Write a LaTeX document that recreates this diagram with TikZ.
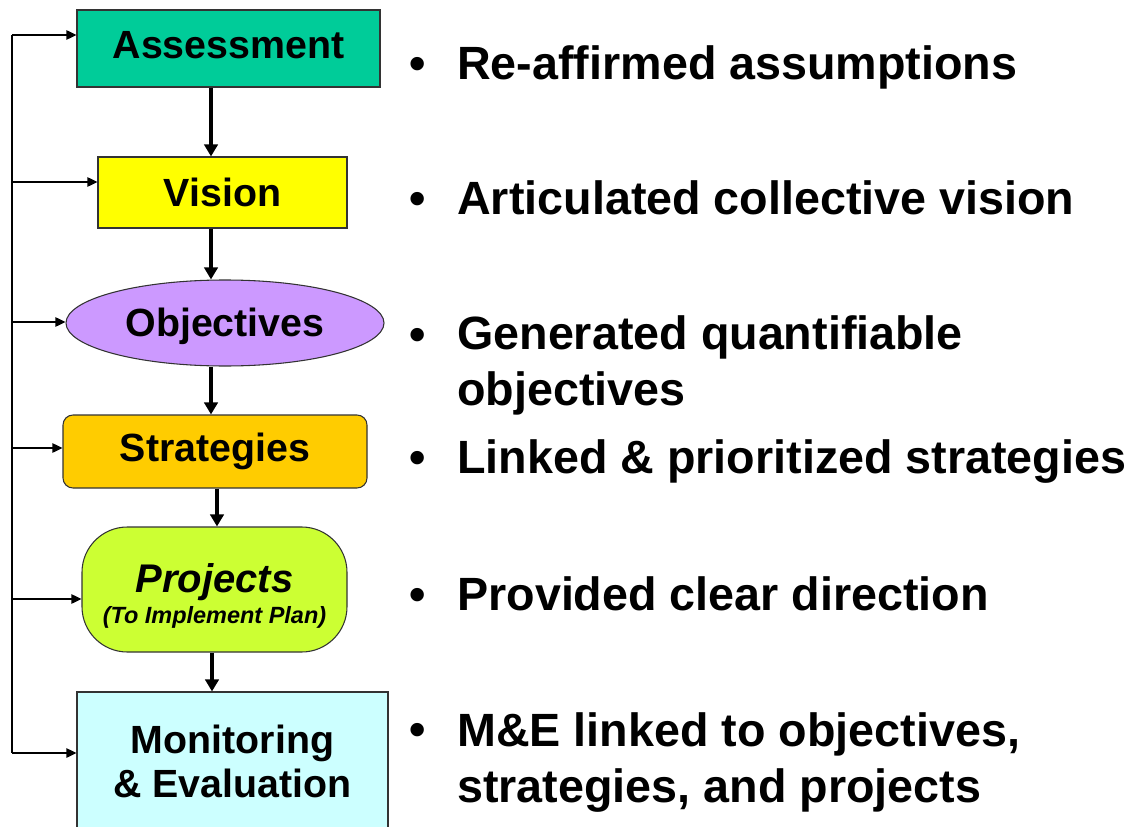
\documentclass[tikz,border=0pt]{standalone}
\usepackage{fontspec}
\setmainfont{Liberation Sans}
\usetikzlibrary{arrows.meta,shapes.geometric}
\definecolor{assesscol}{RGB}{0,204,153}
\definecolor{visioncol}{RGB}{255,255,0}
\definecolor{objcol}{RGB}{204,153,255}
\definecolor{stratcol}{RGB}{255,204,0}
\definecolor{projcol}{RGB}{204,255,51}
\definecolor{moncol}{RGB}{204,255,255}
\tikzset{
  box/.style={draw=black!80, line width=0.8pt, inner sep=0pt, align=center, font=\fontsize{29.5pt}{33pt}\selectfont\bfseries},
  onebox/.style={box, text height=21pt, text depth=6.4pt},
  flow/.style={line width=2.3pt, -{Triangle[length=9pt,width=10pt]}},
  fbline/.style={line width=1.1pt},
  fbarrow/.style={line width=1.1pt, -{Triangle[length=7.5pt,width=7pt]}},
  bul/.style={anchor=base west, inner sep=0pt, font=\fontsize{35pt}{42pt}\selectfont\bfseries},
  outtext/.style={anchor=base west, inner sep=0pt, align=left, font=\fontsize{35pt}{42pt}\selectfont\bfseries}
}
% #2 = first baseline (bullet), #3 = last baseline (text)
\newcommand{\outcome}[4]{\node[bul] (b#1) at (409,#2) {\textbullet}; \node[outtext] (t#1) at (457,#3) {#4};}
\begin{document}
\begin{tikzpicture}[x=0.75pt,y=-0.75pt]
\useasboundingbox (0,0) rectangle (1141,827);
\node[onebox, fill=assesscol, minimum width=227.25pt, minimum height=57.75pt] (assess) at (228.5,48.5) {Assessment};
\node[onebox, fill=visioncol, minimum width=186.75pt, minimum height=53.25pt, text height=25pt, text depth=4pt] (vision) at (222.5,192.5) {Vision};
\node[onebox, ellipse, fill=objcol, minimum width=238.5pt, minimum height=64.5pt, text depth=1pt] (obj) at (225,323) {Objectives};
\node[onebox, fill=stratcol, rounded corners=7.5pt, minimum width=228pt, minimum height=54.75pt] (strat) at (215,451.5) {Strategies};
\node[box, fill=projcol, rounded corners=34pt, minimum width=198.75pt, minimum height=93.75pt, font=\fontsize{30pt}{23.25pt}\selectfont\bfseries\itshape] (proj) at (214.5,589.5) {\rule{0pt}{32pt}Projects\\{\fontsize{17.6pt}{23.25pt}\selectfont(To Implement Plan)}};
\node[box, fill=moncol, minimum width=233.25pt, minimum height=103.5pt] (mon) at (232.5,761) {Monitoring\\\& Evaluation};
\draw[flow] (assess.south -| 211,0) -- (vision.north -| 211,0);
\draw[flow] (vision.south -| 211,0) -- (obj.north -| 211,0);
\draw[flow] (obj.south -| 211,0) -- (strat.north -| 211,0);
\draw[flow] (strat.south -| 217,0) -- (proj.north -| 217,0);
\draw[flow] (proj.south -| 212,0) -- (mon.north -| 212,0);
\coordinate (fb1) at (12,35);\coordinate (fb2) at (12,182);\coordinate (fb3) at (12,322);
\coordinate (fb4) at (12,448);\coordinate (fb5) at (12,599);\coordinate (fb6) at (12,753);
\draw[fbline] (fb1) -- (fb6);
\draw[fbarrow] (fb1) -- (fb1 -| assess.west);
\draw[fbarrow] (fb2) -- (fb2 -| vision.west);
\draw[fbarrow] (fb3) -- (fb3 -| obj.west);
\draw[fbarrow] (fb4) -- (fb4 -| strat.west);
\draw[fbarrow] (fb5) -- (fb5 -| proj.west);
\draw[fbarrow] (fb6) -- (fb6 -| mon.west);
\outcome{1}{80}{80}{Re-affirmed assumptions}
\outcome{2}{215}{215}{Articulated collective vision}
\outcome{3}{350}{405}{Generated quantifiable\\objectives}
\outcome{4}{473}{473}{Linked \& prioritized strategies}
\outcome{5}{610}{610}{Provided clear direction}
\outcome{6}{745}{802}{M\&E linked to objectives,\\strategies, and projects}
\end{tikzpicture}
\end{document}
